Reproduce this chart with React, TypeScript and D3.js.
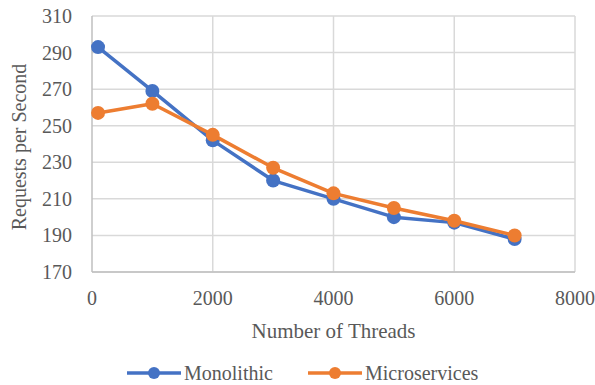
import React from "react";
import * as d3 from "d3";

const threads = [100, 1000, 2000, 3000, 4000, 5000, 6000, 7000];
const monolithic = [293, 269, 242, 220, 210, 200, 197, 188];
const microservices = [257, 262, 245, 227, 213, 205, 198, 190];
const xTicks = [0, 2000, 4000, 6000, 8000];
const yTicks = [170, 190, 210, 230, 250, 270, 290, 310];

const series = [
  { name: "Monolithic", values: monolithic, color: "#4472C4" },
  { name: "Microservices", values: microservices, color: "#ED7D31" },
];

const W = 595;
const H = 385;
const margin = { left: 92, right: 20, top: 16, bottom: 113 };
const textColor = "#595959";
const serif = `"Liberation Serif", "Times New Roman", Tinos, serif`;

export default function App() {
  const x = d3.scaleLinear().domain([0, 8000]).range([margin.left, W - margin.right]);
  const y = d3.scaleLinear().domain([170, 310]).range([H - margin.bottom, margin.top]);
  const line = d3
    .line<number>()
    .x((_, i) => x(threads[i]))
    .y((d) => y(d));

  const legendY = 373;
  const legend = [
    { s: series[0], x0: 127 },
    { s: series[1], x0: 308 },
  ];
  const txt = (size: number) => ({ fontFamily: serif, fontSize: size });

  return (
    <svg
      width={W}
      height={H}
      style={{ position: "absolute", left: 0, top: 0, display: "block", fontFamily: serif }}
    >
      <rect width={W} height={H} fill="#ffffff" />
      {/* horizontal gridlines */}
      {yTicks.map((t) => (
        <line key={"gy" + t} x1={x(0)} x2={x(8000)} y1={y(t)} y2={y(t)} stroke="#d9d9d9" strokeWidth={1.5} />
      ))}
      {/* vertical gridlines */}
      {xTicks.filter((t) => t > 0).map((t) => (
        <line key={"gx" + t} x1={x(t)} x2={x(t)} y1={y(170)} y2={y(310)} stroke="#d9d9d9" strokeWidth={1.5} />
      ))}
      {/* axes */}
      <line x1={x(0)} x2={x(0)} y1={y(170)} y2={y(310)} stroke="#bfbfbf" strokeWidth={1.5} />
      <line x1={x(0)} x2={x(8000)} y1={y(170)} y2={y(170)} stroke="#bfbfbf" strokeWidth={1.5} />
      <g fill={textColor}>
        {/* tick labels */}
        {yTicks.map((t) => (
          <text key={"ty" + t} x={72} y={y(t)} dy="0.35em" textAnchor="end" style={txt(20)}>
            {t}
          </text>
        ))}
        {xTicks.map((t) => (
          <text key={"tx" + t} x={x(t)} y={y(170) + 26} dy="0.35em" textAnchor="middle" style={txt(20)}>
            {t}
          </text>
        ))}
        {/* axis titles */}
        <text
          transform={`translate(26, ${(y(170) + y(310)) / 2 + 3}) rotate(-90)`}
          textAnchor="middle"
          style={txt(20)}
        >
          Requests per Second
        </text>
        <text x={(x(0) + x(8000)) / 2} y={338} textAnchor="middle" style={txt(21)}>
          Number of Threads
        </text>
        {/* legend labels */}
        {legend.map(({ s, x0 }) => (
          <text key={"lt" + s.name} x={x0 + 57} y={legendY} dy="0.35em" style={txt(20)}>
            {s.name}
          </text>
        ))}
      </g>
      {/* series */}
      {series.map((s) => (
        <g key={s.name}>
          <path d={line(s.values) || ""} fill="none" stroke={s.color} strokeWidth={3.5} strokeLinejoin="round" />
          {s.values.map((v, i) => (
            <circle key={i} cx={x(threads[i])} cy={y(v)} r={7} fill={s.color} />
          ))}
        </g>
      ))}
      {/* legend swatches */}
      {legend.map(({ s, x0 }) => (
        <g key={"lg" + s.name}>
          <line x1={x0} x2={x0 + 54} y1={legendY} y2={legendY} stroke={s.color} strokeWidth={3.5} />
          <circle cx={x0 + 27} cy={legendY} r={6} fill={s.color} />
        </g>
      ))}
    </svg>
  );
}
